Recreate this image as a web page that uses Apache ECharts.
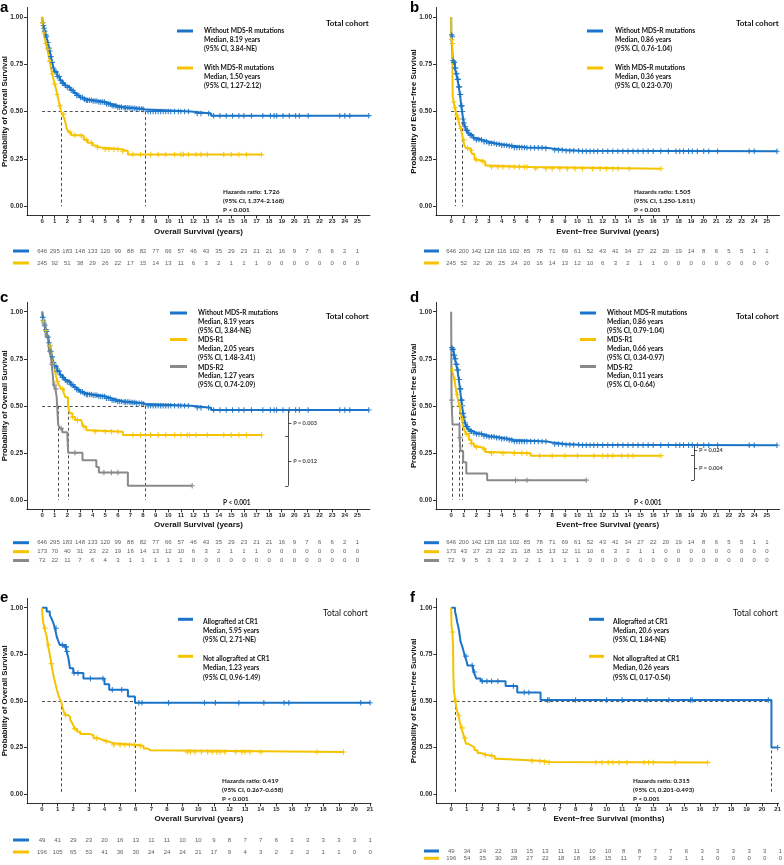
<!DOCTYPE html>
<html>
<head>
<meta charset="utf-8">
<script src="https://cdn.jsdelivr.net/npm/echarts@6/dist/echarts.min.js"></script>
<style>
  html, body { margin: 0; padding: 0; background: #fff; }
  #chart { width: 784px; height: 865px; }
</style>
</head>
<body>
<div id="chart"></div>
<script>
// ---------- tick labels ----------
const ticks25 = [0,1,2,3,4,5,6,7,8,9,10,11,12,13,14,15,16,17,18,19,20,21,22,23,24,25]
const ticks21 = [0,1,2,3,4,5,6,7,8,9,10,11,12,13,14,15,16,17,18,19,20,21]
const survTicks = [0, 0.25, 0.5, 0.75, 1]

// ---------- Kaplan-Meier steps [time, survival] ----------
const osWithout = [[0,1],[0.05,0.97],[0.1,0.955],[0.15,0.94],[0.2,0.925],[0.25,0.915],[0.3,0.905],[0.35,0.895],[0.4,0.88],[0.45,0.865],[0.5,0.85],[0.55,0.835],[0.6,0.82],[0.65,0.805],[0.7,0.79],[0.75,0.775],[0.8,0.76],[0.85,0.745],[0.9,0.73],[0.95,0.72],[1.0,0.71],[1.2,0.685],[1.4,0.665],[1.6,0.65],[1.8,0.637],[2.0,0.627],[2.25,0.612],[2.5,0.598],[2.75,0.585],[3.0,0.574],[3.25,0.565],[3.5,0.56],[4.0,0.556],[4.5,0.55],[5.0,0.54],[5.5,0.53],[6.0,0.523],[6.5,0.52],[7.0,0.517],[7.5,0.514],[8.0,0.51],[8.2,0.5],[11.8,0.49],[13.4,0.478],[25.9,0.478]]
const osWith = [[0,1],[0.05,0.97],[0.1,0.94],[0.15,0.915],[0.2,0.89],[0.3,0.86],[0.4,0.83],[0.5,0.8],[0.6,0.765],[0.7,0.73],[0.8,0.7],[0.9,0.67],[1.0,0.645],[1.1,0.62],[1.2,0.59],[1.3,0.56],[1.4,0.53],[1.5,0.5],[1.6,0.485],[1.75,0.465],[1.85,0.44],[1.95,0.41],[2.1,0.39],[2.3,0.375],[3.0,0.372],[3.3,0.35],[3.6,0.335],[4.0,0.32],[4.3,0.31],[4.6,0.3],[6.3,0.29],[6.8,0.272],[17.4,0.272]]
const efsWithout = [[0,1],[0.01,0.905],[0.1,0.895],[0.13,0.77],[0.2,0.76],[0.3,0.73],[0.4,0.7],[0.5,0.67],[0.6,0.63],[0.7,0.59],[0.8,0.53],[0.86,0.5],[0.95,0.46],[1.0,0.44],[1.1,0.42],[1.2,0.4],[1.35,0.385],[1.5,0.375],[1.75,0.36],[2.0,0.35],[2.5,0.34],[3.0,0.332],[3.5,0.327],[4.0,0.322],[4.5,0.318],[5.0,0.31],[6.0,0.308],[7.5,0.304],[8.0,0.297],[9.0,0.293],[10.2,0.29],[25.8,0.29]]
const efsWith = [[0,1],[0.02,0.88],[0.08,0.86],[0.12,0.58],[0.2,0.55],[0.3,0.52],[0.36,0.5],[0.45,0.48],[0.55,0.46],[0.65,0.43],[0.75,0.41],[0.85,0.385],[0.95,0.35],[1.05,0.32],[1.2,0.305],[1.5,0.295],[1.65,0.275],[1.85,0.245],[2.1,0.24],[2.5,0.235],[2.7,0.215],[2.9,0.207],[6.3,0.197],[16.6,0.197]]
const osR1 = [[0,1],[0.05,0.97],[0.1,0.95],[0.2,0.92],[0.3,0.9],[0.4,0.87],[0.5,0.85],[0.6,0.82],[0.7,0.8],[0.8,0.76],[0.9,0.72],[1.0,0.69],[1.1,0.66],[1.2,0.63],[1.35,0.61],[1.5,0.59],[1.7,0.57],[1.85,0.545],[2.05,0.5],[2.2,0.46],[2.4,0.44],[2.6,0.425],[3.1,0.415],[3.25,0.39],[3.5,0.37],[3.8,0.362],[6.4,0.345],[17.4,0.345]]
const osR2 = [[0,1],[0.1,0.96],[0.2,0.93],[0.3,0.87],[0.5,0.83],[0.55,0.79],[0.7,0.76],[0.75,0.72],[0.85,0.66],[0.9,0.61],[1.05,0.59],[1.15,0.55],[1.27,0.4],[1.4,0.38],[1.6,0.36],[2.0,0.34],[2.07,0.25],[3.2,0.21],[4.3,0.175],[4.5,0.145],[6.8,0.075],[11.9,0.075]]
const efsWithoutD = [[0,0.81],[0.1,0.8],[0.2,0.77],[0.3,0.75],[0.4,0.72],[0.5,0.69],[0.6,0.64],[0.7,0.59],[0.8,0.53],[0.86,0.5],[0.95,0.46],[1.0,0.44],[1.1,0.41],[1.2,0.39],[1.35,0.375],[1.5,0.365],[1.75,0.355],[2.0,0.35],[2.5,0.34],[3.0,0.335],[3.5,0.33],[4.0,0.325],[4.5,0.318],[5.0,0.31],[7.6,0.305],[8.0,0.297],[9.0,0.293],[10.2,0.29],[25.8,0.29]]
const efsR1 = [[0,0.69],[0.15,0.67],[0.25,0.64],[0.35,0.6],[0.45,0.56],[0.55,0.53],[0.66,0.5],[0.75,0.46],[0.85,0.43],[0.95,0.39],[1.05,0.37],[1.2,0.35],[1.4,0.32],[1.6,0.3],[1.8,0.285],[2.0,0.28],[2.4,0.27],[2.7,0.255],[2.9,0.248],[6.3,0.235],[16.6,0.235]]
const efsR2 = [[0,1],[0.03,0.53],[0.11,0.4],[0.66,0.33],[0.75,0.26],[0.95,0.2],[1.2,0.14],[2.85,0.105],[10.7,0.105]]
const osAllo = [[0,1],[0.3,0.98],[0.5,0.96],[0.62,0.94],[0.73,0.917],[0.83,0.89],[0.94,0.845],[1.05,0.82],[1.15,0.8],[1.47,0.79],[1.58,0.765],[1.69,0.73],[1.79,0.675],[2.0,0.65],[2.65,0.62],[4.0,0.59],[4.3,0.56],[5.5,0.523],[5.95,0.49],[21,0.49]]
const osNoAllo = [[0,1],[0.03,0.96],[0.08,0.92],[0.15,0.89],[0.22,0.87],[0.3,0.845],[0.38,0.8],[0.45,0.77],[0.52,0.74],[0.6,0.7],[0.68,0.66],[0.75,0.63],[0.85,0.595],[0.95,0.56],[1.05,0.53],[1.15,0.51],[1.23,0.495],[1.3,0.47],[1.4,0.44],[1.5,0.425],[1.65,0.415],[1.8,0.4],[1.9,0.385],[2.0,0.37],[2.1,0.35],[2.25,0.335],[2.45,0.322],[3.1,0.316],[3.3,0.3],[3.6,0.29],[3.9,0.283],[4.2,0.273],[4.6,0.264],[6.2,0.258],[6.5,0.245],[6.75,0.235],[6.95,0.226],[19.3,0.226]]
const efsAllo = [[0,1],[0.25,0.98],[0.33,0.95],[0.38,0.925],[0.45,0.9],[0.5,0.88],[0.55,0.85],[0.6,0.82],[0.72,0.79],[0.8,0.765],[0.88,0.74],[1.0,0.71],[1.05,0.69],[1.4,0.67],[1.45,0.655],[1.55,0.635],[1.6,0.62],[1.9,0.605],[3.5,0.58],[4.25,0.545],[5.75,0.505],[20.6,0.25],[21,0.25]]
const efsNoAllo = [[0,1],[0.02,0.9],[0.08,0.87],[0.12,0.8],[0.14,0.65],[0.17,0.56],[0.22,0.53],[0.26,0.5],[0.32,0.47],[0.4,0.44],[0.48,0.42],[0.55,0.39],[0.65,0.355],[0.75,0.33],[0.85,0.3],[0.95,0.27],[1.1,0.26],[1.3,0.25],[1.5,0.235],[1.7,0.22],[1.9,0.21],[2.3,0.205],[2.8,0.19],[3.0,0.182],[5.0,0.178],[6.0,0.172],[6.3,0.17],[16.5,0.17]]

// ---------- censoring times ----------
const osWithoutCens = [0.05,0.1,0.15,0.2,0.3,0.35,0.45,0.55,0.6,0.7,0.8,0.9,1.0,1.1,1.2,1.35,1.45,1.6,1.7,1.85,2.0,2.15,2.3,2.45,2.6,2.75,2.9,3.05,3.2,3.35,3.5,3.6,3.75,3.9,4.05,4.2,4.35,4.5,4.65,4.8,4.95,5.1,5.25,5.4,5.55,5.7,5.85,6.0,6.15,6.3,6.5,6.6,6.75,6.9,7.05,7.2,7.35,7.5,7.7,7.9,8.05,8.4,8.6,8.8,9.0,9.2,9.4,9.6,9.8,10.0,10.2,10.5,10.8,11.0,11.3,11.6,12.3,12.6,13.2,13.6,14.1,14.6,15.1,15.6,16.0,16.6,17.5,18.1,18.4,18.6,19.1,19.6,20.1,20.4,21.1,23.6,24.0,24.4,25.9]
const osWithCens = [0.05,0.15,0.3,0.45,0.6,0.8,1.0,1.2,1.4,1.7,2.2,2.6,3.1,3.5,3.9,4.4,5.0,5.3,5.7,6.0,6.4,7.2,7.8,8.6,9.2,9.8,10.5,11.0,11.2,11.6,12.2,12.6,13.1,14.4,15.0,15.6,16.2,17.4]
const efsWithoutCens = [0.05,0.1,0.15,0.2,0.25,0.3,0.35,0.4,0.45,0.5,0.55,0.6,0.65,0.7,0.75,0.8,0.85,0.9,0.95,1.0,1.1,1.2,1.3,1.4,1.5,1.6,1.8,2.0,2.2,2.4,2.6,2.8,3.0,3.2,3.4,3.6,3.8,4.0,4.2,4.4,4.6,4.8,5.0,5.2,5.4,5.6,5.8,6.0,6.3,6.6,6.9,7.2,7.5,8.2,8.5,8.8,9.1,9.4,9.7,10.1,10.4,10.7,11.0,11.3,11.6,12.0,12.4,12.8,13.2,13.6,14.0,14.4,14.8,15.2,15.6,16.0,16.6,17.2,17.8,18.1,18.4,18.8,19.1,19.5,20.0,20.4,21.1,23.6,24.0,25.8]
const efsWithCens = [0.05,0.1,0.2,0.3,0.45,0.6,0.8,1.0,1.3,1.6,2.0,2.5,3.2,3.7,4.1,4.6,5.0,5.4,5.8,6.0,6.7,7.5,8.0,8.6,9.2,9.8,10.4,11.2,11.8,12.3,12.8,13.2,14.1,16.6]
const osR1Cens = [0.1,0.3,0.6,0.9,1.2,1.6,2.4,2.8,3.3,4.2,5.0,5.5,6.0,7.2,7.8,8.6,9.2,9.8,10.5,11.0,11.5,11.7,12.2,13.1,14.4,15.0,15.6,16.2,17.4]
const osR2Cens = [0.2,0.4,0.6,0.8,1.0,1.1,1.5,2.6,4.9,5.5,6.0,11.9]
const efsR1Cens = [0.1,0.3,0.5,0.7,0.9,1.2,1.6,2.0,2.6,3.2,4.1,5.0,5.6,6.0,7.0,8.0,9.0,10.0,11.3,12.0,12.4,12.8,13.5,14.0,14.4,16.6]
const efsR2Cens = [0.05,0.7,5.1,6.0,10.7]
const osAlloCens = [0.9,1.3,1.5,1.55,1.6,2.05,2.3,3.1,3.9,4.5,5.1,6.2,6.4,8.1,10.4,11.1,12.6,14.2,15.5,15.8,20.4,21]
const osNoAlloCens = [0.2,0.4,0.6,1.5,2.1,3.5,4.1,4.6,5.0,5.3,5.6,5.9,6.3,9.3,9.5,9.8,10.2,10.6,10.9,11.2,11.4,11.7,12.4,12.8,13.0,13.3,14.0,17.6,19.3]
const efsAlloCens = [0.95,1.35,1.5,2.0,2.3,2.6,3.0,4.0,4.7,5.0,6.2,6.3,8.0,10.0,11.0,12.6,14.0,15.4,15.5,20.4,21]
const efsNoAlloCens = [0.1,0.3,0.5,0.7,0.9,2.2,2.6,5.2,5.7,6.0,6.3,9.3,9.7,10.1,10.4,10.8,11.3,12.4,12.7,13.0,14.4,16.5]

// ---------- medians ----------
const medA = [8.19, 1.50]
const medB = [0.86, 0.36]
const medC = [8.19, 2.05, 1.27]
const medD = [0.86, 0.66, 0.11]
const medE = [5.95, 1.23]
const medF = [20.6, 0.26]

// ---------- numbers at risk ----------
const riskOsWithout = [646,295,183,148,133,120,99,88,82,77,66,57,46,43,35,29,23,21,21,16,9,7,6,6,2,1]
const riskOsWith = [245,92,51,38,29,26,22,17,15,14,13,11,6,3,2,1,1,1,0,0,0,0,0,0,0,0]
const riskEfsWithout = [646,200,142,128,116,102,85,78,71,69,61,52,43,41,34,27,22,20,19,14,8,6,5,5,1,1]
const riskEfsWith = [245,52,32,26,25,24,20,16,14,13,12,10,6,3,2,1,1,0,0,0,0,0,0,0,0,0]
const riskOsR1 = [173,70,40,31,23,22,19,16,14,13,12,10,6,3,2,1,1,1,0,0,0,0,0,0,0,0]
const riskOsR2 = [72,22,11,7,6,4,3,1,1,1,1,1,0,0,0,0,0,0,0,0,0,0,0,0,0,0]
const riskEfsR1 = [173,43,27,23,22,21,18,15,13,12,11,10,6,3,2,1,1,0,0,0,0,0,0,0,0,0]
const riskEfsR2 = [72,9,5,3,3,3,2,1,1,1,1,0,0,0,0,0,0,0,0,0,0,0,0,0,0,0]
const riskOsAllo = [49,41,29,23,20,16,13,11,11,10,10,9,8,7,7,6,3,3,3,3,3,1]
const riskOsNoAllo = [196,105,65,53,41,36,30,24,24,24,21,17,9,4,3,2,2,2,1,1,0,0]
const riskEfsAllo = [49,34,24,22,19,15,13,11,11,10,10,8,8,7,7,6,3,3,3,3,3,1]
const riskEfsNoAllo = [196,54,35,30,28,27,22,18,18,18,15,11,7,3,2,1,1,0,0,0,0,0]

// ---------- texts ----------
const legA = [['Without MDS-R mutations','Median, 8.19 years','(95% CI, 3.84-NE)'],['With MDS-R mutations','Median, 1.50 years','(95% CI, 1.27-2.12)']]
const legB = [['Without MDS-R mutations','Median, 0.86 years','(95% CI, 0.76-1.04)'],['With MDS-R mutations','Median, 0.36 years','(95% CI, 0.23-0.70)']]
const legC = [['Without MDS-R mutations','Median, 8.19 years','(95% CI, 3.84-NE)'],['MDS-R1','Median, 2.05 years','(95% CI, 1.48-3.41)'],['MDS-R2','Median, 1.27 years','(95% CI, 0.74-2.09)']]
const legD = [['Without MDS-R mutations','Median, 0.86 years','(95% CI, 0.79-1.04)'],['MDS-R1','Median, 0.66 years','(95% CI, 0.34-0.97)'],['MDS-R2','Median, 0.11 years','(95% CI, 0-0.64)']]
const legE = [['Allografted at CR1','Median, 5.95 years','(95% CI, 2.71-NE)'],['Not allografted at CR1','Median, 1.23 years','(95% CI, 0.96-1.49)']]
const legF = [['Allografted at CR1','Median, 20.6 years','(95% CI, 1.84-NE)'],['Not allografted at CR1','Median, 0.26 years','(95% CI, 0.17-0.54)']]
const hrA = ['Hazards ratio: 1.726','(95% CI, 1.374-2.168)','P < 0.001']
const hrB = ['Hazards ratio: 1.505','(95% CI, 1.250-1.811)','P < 0.001']
const hrE = ['Hazards ratio: 0.419','(95% CI, 0.267-0.658)','P < 0.001']
const hrF = ['Hazards ratio: 0.315','(95% CI, 0.201-0.493)','P < 0.001']
const pairC = { levels: [0.475, 0.34, 0.075], labels: ['P = 0.003', 'P = 0.012'] }
const pairD = { levels: [0.29, 0.235, 0.105], labels: ['P = 0.024', 'P = 0.004'] }

const BLUE = '#1a74c8'
const YELLOW = '#f5c300'
const GRAY = '#8a8a8a'
const PLUS = 'path://M2,0H3V2H5V3H3V5H2V3H0V2H2Z'
const OS_Y = 'Probability of Overall Survival'
const EFS_Y = 'Probability of Event\u2212free Survival'

// layout of each panel
const panels = [
  {
    letter: 'a', letterX: 0, letterY: 8, yTitle: OS_Y, yTitleX: 5,
    grid: { left: 27, top: 7.5, width: 343, height: 208 }, xMin: -1.2, xMax: 26, xTicks: ticks25,
    xTitle: 'Overall Survival (years)', xTitleY: 232,
    curves: [{ color: BLUE, steps: osWithout, cens: osWithoutCens }, { color: YELLOW, steps: osWith, cens: osWithCens }],
    medians: medA,
    legend: { x1: 177, x2: 193, tx: 204, gap: 8.7, items: [{ y: 31, ty: 31, text: legA[0] }, { y: 68, ty: 68, text: legA[1] }] },
    cohort: { x: 326, y: 23, bold: true }, note: { x: 223, y: 192, lines: hrA },
    risk: { rows: [riskOsWithout, riskOsWith], ys: [251, 263], sw: [13, 29] }
  },
  {
    letter: 'b', letterX: 410, letterY: 8, yTitle: EFS_Y, yTitleX: 414,
    grid: { left: 436, top: 7.5, width: 343.5, height: 208 }, xMin: -1.2, xMax: 26, xTicks: ticks25,
    xTitle: 'Event\u2212free Survival (years)', xTitleY: 232,
    curves: [{ color: BLUE, steps: efsWithout, cens: efsWithoutCens }, { color: YELLOW, steps: efsWith, cens: efsWithCens }],
    medians: medB,
    legend: { x1: 587, x2: 603, tx: 615, gap: 8.7, items: [{ y: 31, ty: 31, text: legB[0] }, { y: 68, ty: 68, text: legB[1] }] },
    cohort: { x: 736, y: 23, bold: true }, note: { x: 634, y: 192, lines: hrB },
    risk: { rows: [riskEfsWithout, riskEfsWith], ys: [251, 263], sw: [424, 439] }
  },
  {
    letter: 'c', letterX: 0, letterY: 298, yTitle: OS_Y, yTitleX: 5,
    grid: { left: 27, top: 302.3, width: 343, height: 207 }, xMin: -1.2, xMax: 26, xTicks: ticks25,
    xTitle: 'Overall Survival (years)', xTitleY: 524.5,
    curves: [{ color: BLUE, steps: osWithout, cens: osWithoutCens }, { color: YELLOW, steps: osR1, cens: osR1Cens }, { color: GRAY, steps: osR2, cens: osR2Cens }],
    medians: medC,
    legend: { x1: 170, x2: 187, tx: 198, gap: 8.7, items: [{ y: 313, ty: 313, text: legC[0] }, { y: 339.5, ty: 340, text: legC[1] }, { y: 366.5, ty: 367.5, text: legC[2] }] },
    cohort: { x: 326, y: 316.7, bold: true }, pAll: { x: 223, y: 503 },
    pair: pairC, pairX: 19.52,
    risk: { rows: [riskOsWithout, riskOsR1, riskOsR2], ys: [542.7, 551.7, 560.5], sw: [13, 29] }
  },
  {
    letter: 'd', letterX: 410, letterY: 298, yTitle: EFS_Y, yTitleX: 414,
    grid: { left: 436, top: 302.3, width: 343.5, height: 207 }, xMin: -1.2, xMax: 26, xTicks: ticks25,
    xTitle: 'Event\u2212free Survival (years)', xTitleY: 524.5,
    curves: [{ color: BLUE, steps: efsWithoutD, cens: efsWithoutCens }, { color: YELLOW, steps: efsR1, cens: efsR1Cens }, { color: GRAY, steps: efsR2, cens: efsR2Cens }],
    medians: medD,
    legend: { x1: 580, x2: 596, tx: 607, gap: 8.7, items: [{ y: 313, ty: 313, text: legD[0] }, { y: 339.5, ty: 340, text: legD[1] }, { y: 366.5, ty: 367.5, text: legD[2] }] },
    cohort: { x: 736, y: 316.7, bold: true }, pAll: { x: 634, y: 503 },
    pair: pairD, pairX: 19.24,
    risk: { rows: [riskEfsWithout, riskEfsR1, riskEfsR2], ys: [542.7, 551.7, 560.5], sw: [424, 439] }
  },
  {
    letter: 'e', letterX: 0, letterY: 598, yTitle: OS_Y, yTitleX: 5,
    grid: { left: 27, top: 598.4, width: 344, height: 205 }, xMin: -0.96, xMax: 21.06, xTicks: ticks21,
    xTitle: 'Overall Survival (years)', xTitleY: 819,
    curves: [{ color: BLUE, steps: osAllo, cens: osAlloCens }, { color: YELLOW, steps: osNoAllo, cens: osNoAlloCens }],
    medians: medE,
    legend: { x1: 178, x2: 193, tx: 203, gap: 9.2, items: [{ y: 619.3, ty: 621.7, text: legE[0] }, { y: 656.3, ty: 659, text: legE[1] }] },
    cohort: { x: 323, y: 613.3, bold: false }, note: { x: 222, y: 780.7, lines: hrE },
    risk: { rows: [riskOsAllo, riskOsNoAllo], ys: [840, 852], sw: [13, 29] }
  },
  {
    letter: 'f', letterX: 410, letterY: 598, yTitle: EFS_Y, yTitleX: 414,
    grid: { left: 436.4, top: 598.4, width: 345, height: 205 }, xMin: -0.95, xMax: 21.06, xTicks: ticks21,
    xTitle: 'Event\u2212free Survival (months)', xTitleY: 819,
    curves: [{ color: BLUE, steps: efsAllo, cens: efsAlloCens }, { color: YELLOW, steps: efsNoAllo, cens: efsNoAlloCens }],
    medians: medF,
    legend: { x1: 589, x2: 604, tx: 613, gap: 9.2, items: [{ y: 619.3, ty: 621.7, text: legF[0] }, { y: 656.3, ty: 659, text: legF[1] }] },
    cohort: { x: 733, y: 613.3, bold: false }, note: { x: 633, y: 780.7, lines: hrF },
    risk: { rows: [riskEfsAllo, riskEfsNoAllo], ys: [851, 858.3], sw: [424, 439] }
  }
]

// survival value at time t (censor marks sit on the curve)
function survAt (steps, t) {
  let s = steps[0][1]
  for (const [tt, ss] of steps) {
    if (tt <= t) s = ss
    else break
  }
  return s
}

const grids = []
const xAxes = []
const yAxes = []
const series = []
const graphics = []

function txt (x, y, text, style) {
  graphics.push({
    type: 'text', x, y, silent: true,
    style: Object.assign({ text, fill: '#111', fontFamily: 'Lato', fontSize: 7, fontWeight: 'bold', align: 'left', verticalAlign: 'middle' }, style)
  })
}

const axisFont = { fontFamily: 'Liberation Sans', fontWeight: 'bold', color: '#2b2b2b' }

panels.forEach(p => {
  const gi = grids.length
  grids.push(Object.assign({}, p.grid))
  xAxes.push({
    gridIndex: gi, type: 'value', min: p.xMin, max: p.xMax,
    splitLine: { show: false },
    axisLine: { show: true, onZero: false, lineStyle: { color: '#000', width: 0.8 } },
    axisTick: { show: true, customValues: p.xTicks, length: 3, lineStyle: { color: '#000', width: 0.8 } },
    axisLabel: Object.assign({ customValues: p.xTicks, fontSize: 6, margin: 3 }, axisFont)
  })
  yAxes.push({
    gridIndex: gi, type: 'value', min: -0.05, max: 1.05,
    splitLine: { show: false },
    axisLine: { show: true, onZero: false, lineStyle: { color: '#000', width: 0.8 } },
    axisTick: { show: true, customValues: survTicks, length: 3, lineStyle: { color: '#000', width: 0.8 } },
    axisLabel: Object.assign({ customValues: survTicks, fontSize: 6.5, margin: 4, formatter: v => v.toFixed(2) }, axisFont)
  })

  // median reference lines
  const maxMed = Math.max(...p.medians)
  const medSegs = [{ coords: [[0, 0.5], [maxMed, 0.5]] }].concat(p.medians.map(m => ({ coords: [[m, 0.5], [m, 0]] })))
  series.push({
    type: 'lines', coordinateSystem: 'cartesian2d', xAxisIndex: gi, yAxisIndex: gi, silent: true, z: 1,
    data: medSegs, lineStyle: { color: '#3a3a3a', width: 0.9, type: [3, 2.5], opacity: 1 }
  })

  // survival curves + censor marks
  p.curves.forEach(c => {
    series.push({
      type: 'line', xAxisIndex: gi, yAxisIndex: gi, step: 'end', data: c.steps, symbol: 'none', silent: true, z: 3,
      lineStyle: { color: c.color, width: 2 }, itemStyle: { color: c.color }
    })
    series.push({
      type: 'scatter', xAxisIndex: gi, yAxisIndex: gi, silent: true, z: 4,
      data: c.cens.map(t => [t, survAt(c.steps, t)]), symbol: PLUS, symbolSize: 5.5,
      itemStyle: { color: c.color, opacity: 0.9 }
    })
  })

  // pairwise p-value bracket
  if (p.pair) {
    const x = p.pairX
    const L = p.pair.levels
    const segs = [{ coords: [[x, L[0]], [x, L[2]]] }]
    L.forEach(v => segs.push({ coords: [[x - 0.25, v], [x, v]] }))
    const mids = [(L[0] + L[1]) / 2, (L[1] + L[2]) / 2]
    mids.forEach(v => segs.push({ coords: [[x, v], [x + 0.25, v]] }))
    series.push({
      type: 'lines', coordinateSystem: 'cartesian2d', xAxisIndex: gi, yAxisIndex: gi, silent: true, z: 2,
      data: segs, lineStyle: { color: '#222', width: 0.8, opacity: 1 }
    })
    series.push({
      type: 'scatter', xAxisIndex: gi, yAxisIndex: gi, silent: true, z: 2, symbolSize: 1,
      itemStyle: { color: 'rgba(0,0,0,0)' },
      data: mids.map((v, i) => [x + 0.35, v, p.pair.labels[i]]),
      label: { show: true, position: 'right', distance: 0, formatter: d => d.value[2], fontSize: 5.6, fontWeight: 'bold', fontFamily: 'Lato', color: '#111' }
    })
  }

  // numbers at risk
  const r = p.risk
  const n = r.rows.length
  const rh = (r.ys[n - 1] - r.ys[0]) / (n - 1)
  const ri = grids.length
  grids.push({ left: p.grid.left, width: p.grid.width, top: r.ys[0] - rh / 2, height: rh * n })
  xAxes.push({ gridIndex: ri, type: 'value', min: p.xMin, max: p.xMax, show: false })
  yAxes.push({ gridIndex: ri, type: 'value', min: 0, max: n, inverse: true, show: false })
  r.rows.forEach((row, k) => {
    series.push({
      type: 'scatter', xAxisIndex: ri, yAxisIndex: ri, silent: true, symbolSize: 1,
      itemStyle: { color: 'rgba(0,0,0,0)' },
      data: row.map((v, i) => [p.xTicks[i], k + 0.5, v]),
      label: { show: true, position: 'inside', formatter: d => d.value[2], fontSize: 6, fontFamily: 'Liberation Sans', color: '#333' }
    })
    graphics.push({
      type: 'rect', silent: true,
      shape: { x: r.sw[0], y: r.ys[k] - 1.5, width: r.sw[1] - r.sw[0], height: 3 },
      style: { fill: p.curves[k].color }
    })
  })

  // texts
  txt(p.letterX, p.letterY, p.letter, { fontFamily: 'Liberation Sans', fontSize: 15, fill: '#000' })
  graphics.push({
    type: 'text', x: p.yTitleX, y: p.grid.top + p.grid.height / 2, rotation: Math.PI / 2, silent: true,
    style: { text: p.yTitle, fill: '#111', fontFamily: 'Liberation Sans', fontSize: 7.8, fontWeight: 'bold', align: 'center', verticalAlign: 'middle' }
  })
  txt(p.grid.left + p.grid.width / 2, p.xTitleY, p.xTitle, { fontFamily: 'Liberation Sans', fontSize: 8, align: 'center' })

  const lg = p.legend
  lg.items.forEach((it, k) => {
    graphics.push({
      type: 'line', silent: true,
      shape: { x1: lg.x1, y1: it.y, x2: lg.x2, y2: it.y },
      style: { stroke: p.curves[k].color, lineWidth: 3 }
    })
    it.text.forEach((line, j) => txt(lg.tx, it.ty + j * lg.gap, line, { fontSize: 6.7 }))
  })
  txt(p.cohort.x, p.cohort.y, 'Total cohort', { fontSize: p.cohort.bold ? 8 : 8.5, fontWeight: p.cohort.bold ? 'bold' : 'normal' })
  if (p.note) p.note.lines.forEach((line, j) => txt(p.note.x, p.note.y + j * 9, line, { fontSize: 6.3 }))
  if (p.pAll) txt(p.pAll.x, p.pAll.y, 'P < 0.001', { fontSize: 6.5 })
})

const chart = echarts.init(document.getElementById('chart'), null, { renderer: 'canvas' })
chart.setOption({
  animation: false,
  backgroundColor: '#fff',
  grid: grids,
  xAxis: xAxes,
  yAxis: yAxes,
  series: series,
  graphic: graphics
})
window.addEventListener('resize', () => chart.resize())
</script>
</body>
</html>
